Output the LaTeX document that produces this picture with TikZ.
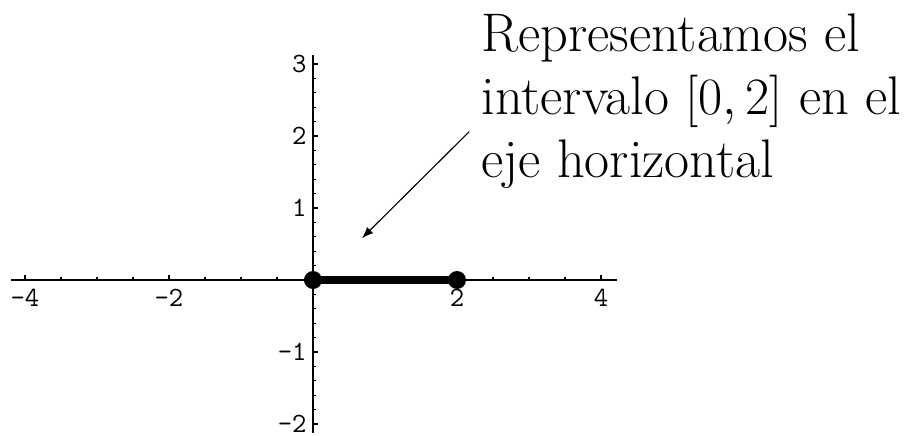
\documentclass[tikz,border=0pt]{standalone}
\usetikzlibrary{arrows.meta,positioning}

\begin{document}
\begin{tikzpicture}[x=1cm, y=1cm,
  axis/.style={line width=0.6pt},
  tickmark/.style={line width=0.5pt},
  ticklabel/.style={font=\ttfamily\fontsize{11}{13}\selectfont, inner sep=0pt},
  dotpt/.style={circle, fill=black, inner sep=0pt, minimum size=0.25cm},
  seg/.style={line width=3.4pt},
  arr/.style={-{Latex[length=1.6mm, width=1.2mm]}, line width=0.45pt}
]
\useasboundingbox (-4.347,-2.153) rectangle (8.431,3.889);

% axes
\coordinate (xmin) at (-4.19,0);
\coordinate (xmax) at (4.22,0);
\coordinate (ymin) at (0,-2.12);
\coordinate (ymax) at (0,3.125);
\draw[axis] (xmin) -- (xmax);
\draw[axis] (ymin) -- (ymax);

% ticks on the horizontal axis
\foreach \x in {-4,-3.5,...,4.1}
  \draw[tickmark] (\x,0) -- (\x,0.04);
\foreach \x in {-4,-2,2,4}
  \draw[tickmark] (\x,0) -- (\x,0.07);
\foreach \x in {-4,-2,2,4}
  \node[ticklabel, anchor=north] (xl\x) at (\x,-0.115) {\x};

% ticks on the vertical axis
\foreach \y in {-2,-1.8,...,3.05}
  \draw[tickmark] (0,\y) -- (0.04,\y);
\foreach \y in {-2,-1,1,2,3}
  \draw[tickmark] (0,\y) -- (0.07,\y);
\foreach \y in {-2,-1,1,2,3}
  \node[ticklabel, anchor=east] (yl\y) at (-0.083,\y) {\y};

% the interval [0,2]
\node[dotpt] (p0) at (0,0) {};
\node[dotpt] (p2) at (2,0) {};
\draw[seg] (p0.center) -- (p2.center);

% comment and arrow
\node[anchor=base west, align=left, inner sep=0pt,
      font=\fontsize{21.5}{24.9}\selectfont] (note) at (2.333,1.417)
  {Representamos el\\intervalo $[0,2]$ en el\\eje horizontal};
\coordinate (arrstart) at (2.17,2.06);
\coordinate (arrend) at (0.68,0.58);
\draw[arr] (arrstart) -- (arrend);
\end{tikzpicture}
\end{document}
